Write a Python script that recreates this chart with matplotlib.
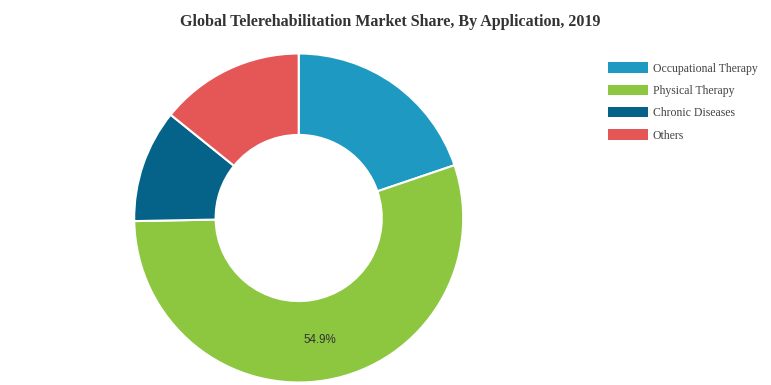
import matplotlib
matplotlib.use("Agg")
import matplotlib.pyplot as plt

categories = ["Occupational Therapy", "Physical Therapy", "Chronic Diseases", "Others"]
shares = [19.8, 54.9, 11.1, 14.2]
colors = ["#1e9ac2", "#8dc63f", "#05638a", "#e45756"]
title = "Global Telerehabilitation Market Share, By Application, 2019"

W, H = 771, 385
fig = plt.figure(figsize=(W / 100, H / 100), dpi=100)

# donut: centre ~ (298.7, 218), outer radius ~164.5 px
cx, cy, r = 298.7, 218.0, 164.5
ax = fig.add_axes([(cx - r) / W, (H - cy - r) / H, 2 * r / W, 2 * r / H])

def only_big(p):
    return f"{p:.1f}%" if p > 50 else ""

wedges, texts, autotexts = ax.pie(
    shares, colors=colors, startangle=90, counterclock=False,
    wedgeprops=dict(width=0.495, edgecolor="white", linewidth=1.5),
    autopct=only_big, pctdistance=0.75,
    textprops=dict(fontsize=8.4, color="#333333", family="Liberation Sans"),
)
ax.set_xlim(-1, 1)
ax.set_ylim(-1, 1)
ax.axis("off")

fig.text(390 / W, 1 - 22 / H, title, ha="center", va="center",
         fontsize=11.55, fontweight="bold", family="Liberation Serif", color="#333333")

leg = fig.legend(wedges, categories, loc="upper left",
                 bbox_to_anchor=(608 / W, 1 - 62.5 / H), frameon=False,
                 prop=dict(family="Liberation Serif", size=8.5),
                 handlelength=3.4, handleheight=0.95, handletextpad=0.4,
                 labelspacing=0.86, borderaxespad=0, borderpad=0)
for t in leg.get_texts():
    t.set_color("#444444")
for h in leg.legend_handles:
    h.set_linewidth(0)

fig.savefig("out.png", dpi=100)
